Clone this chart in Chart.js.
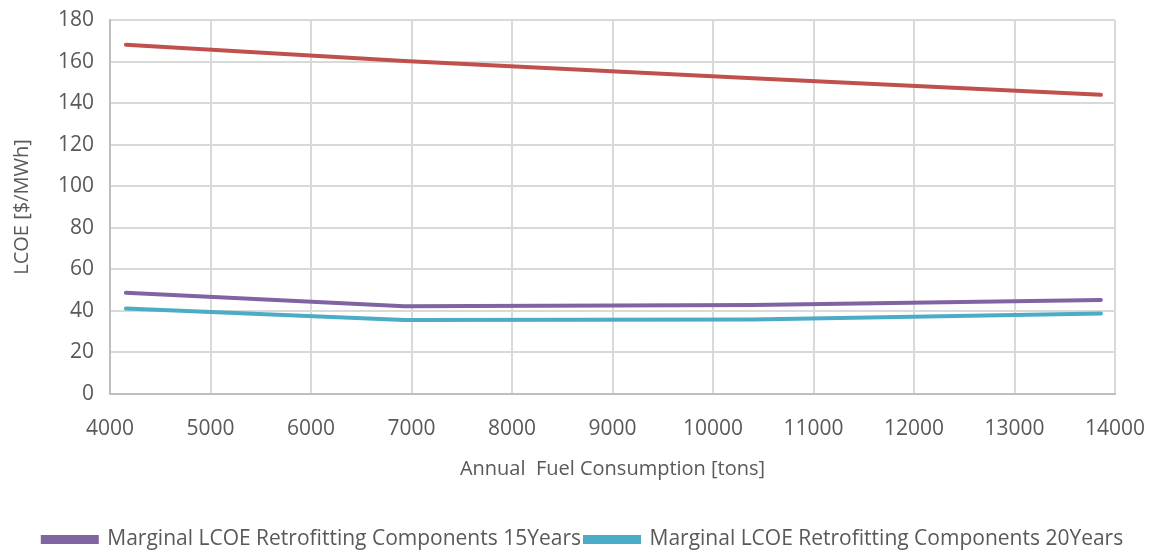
<!DOCTYPE html>
<html>
<head>
<meta charset="utf-8">
<script src="https://cdn.jsdelivr.net/npm/chart.js@4/dist/chart.umd.min.js"></script>
<style>
  html, body { margin: 0; padding: 0; background: #ffffff; }
  #wrap { width: 1160px; height: 554px; position: relative; }
</style>
</head>
<body>
<div id="wrap"><canvas id="c" width="1160" height="554"></canvas></div>
<script>
// Annual fuel consumption [tons] at each evaluated case
const fuelTons = [4158, 6930, 10395, 13860];

// LCOE [$/MWh]
const lcoeTotal = [168.1, 160.3, 152.0, 144.0];
const lcoeRetrofit15 = [48.7, 42.2, 42.8, 45.3];
const lcoeRetrofit20 = [41.1, 35.6, 35.9, 38.7];

const seriesNames = [
  'LCOE',
  'Marginal LCOE Retrofitting Components 15Years',
  'Marginal LCOE Retrofitting Components 20Years'
];

const xTicks = [4000, 5000, 6000, 7000, 8000, 9000, 10000, 11000, 12000, 13000, 14000];
const yTicks = [0, 20, 40, 60, 80, 100, 120, 140, 160, 180];

const toPoints = vals => vals.map((v, i) => ({ x: fuelTons[i], y: v }));

const textColor = '#595959';
const fontFamily = '"Open Sans", "DejaVu Sans", sans-serif';

const lineStyle = color => ({
  borderColor: color,
  backgroundColor: color,
  borderWidth: 4,
  pointRadius: 0,
  pointHoverRadius: 0,
  tension: 0,
  fill: false,
  borderCapStyle: 'round'
});

new Chart(document.getElementById('c'), {
  type: 'line',
  data: {
    datasets: [
      { label: seriesNames[0], data: toPoints(lcoeTotal), ...lineStyle('#C0504D') },
      { label: seriesNames[1], data: toPoints(lcoeRetrofit15), ...lineStyle('#8064A2') },
      { label: seriesNames[2], data: toPoints(lcoeRetrofit20), ...lineStyle('#4BACC6') }
    ]
  },
  options: {
    responsive: false,
    animation: false,
    layout: { padding: { left: 6, right: 0, top: 0, bottom: -6 } },
    plugins: {
      tooltip: { enabled: false },
      legend: {
        position: 'bottom',
        labels: {
          filter: item => item.datasetIndex !== 0,
          boxWidth: 54,
          boxHeight: 5,
          padding: 4,
          color: textColor,
          font: { family: fontFamily, size: 21 }
        }
      }
    },
    scales: {
      x: {
        type: 'linear',
        min: 4000,
        max: 14000,
        afterBuildTicks: s => { s.ticks = xTicks.map(v => ({ value: v })); },
        afterFit: s => {
          s.height = 131;
          s.paddingLeft = 0;
          s.paddingRight = 45;
        },
        border: { color: '#BFBFBF', width: 2 },
        grid: { color: '#D9D9D9', lineWidth: 2, drawTicks: false },
        ticks: {
          padding: 22,
          color: textColor,
          maxRotation: 0,
          font: { family: fontFamily, size: 21 },
          callback: v => String(v)
        },
        title: {
          display: true,
          text: 'Annual  Fuel Consumption [tons]',
          color: textColor,
          font: { family: fontFamily, size: 20 },
          padding: { top: 4, bottom: 44 }
        }
      },
      y: {
        min: 0,
        max: 180,
        afterBuildTicks: s => { s.ticks = yTicks.map(v => ({ value: v })); },
        afterFit: s => {
          s.width = 104;
          s.paddingTop = 20;
          s.paddingBottom = 0;
        },
        border: { color: '#BFBFBF', width: 2 },
        grid: { color: '#D9D9D9', lineWidth: 2, drawTicks: false },
        ticks: {
          padding: 16,
          color: textColor,
          font: { family: fontFamily, size: 21 }
        },
        title: {
          display: true,
          text: 'LCOE [$/MWh]',
          color: textColor,
          font: { family: fontFamily, size: 20 },
          padding: { bottom: 4 }
        }
      }
    }
  }
});
</script>
</body>
</html>
